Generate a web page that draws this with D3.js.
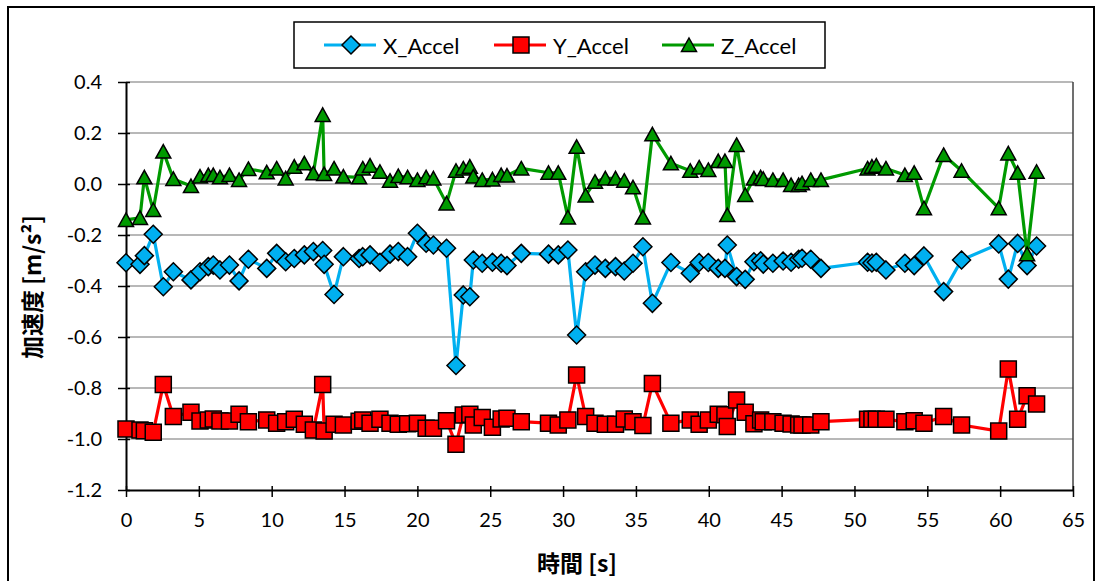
<!DOCTYPE html>
<html>
<head>
<meta charset="utf-8">
<script src="https://cdn.jsdelivr.net/npm/d3@7"></script>
<style>
  body { margin: 0; background: #fff; }
  svg { display: block; }
  text { font-family: Lato, "Open Sans", "DejaVu Sans", sans-serif; fill: #000; }
</style>
</head>
<body>
<svg id="chart" width="1099" height="581"></svg>
<script>
// Sample times [s]
const time = [
  0, 0.96, 1.26, 1.87, 2.56, 3.25, 4.46, 5.08, 5.65, 5.99, 6.45, 7.1, 7.76, 8.4, 9.66,
  10.34, 10.96, 11.55, 12.24, 12.86, 13.5, 13.6, 14.28, 14.92, 16.0, 16.25, 16.75, 17.43,
  18.12, 18.69, 19.33, 20.0, 20.6, 21.1, 22.0, 22.65, 23.15, 23.6, 23.84, 24.45, 25.15,
  25.75, 26.15, 27.13, 29.0, 29.67, 30.33, 30.93, 31.55, 32.19, 32.9, 33.6, 34.2, 34.8,
  35.48, 36.13, 37.4, 38.73, 39.34, 39.97, 40.65, 41.11, 41.27, 41.91, 42.5, 43.1, 43.56,
  43.74, 44.4, 45.1, 45.65, 46.17, 46.4, 47.0, 47.7, 50.9, 51.2, 51.5, 52.16, 53.46,
  54.1, 54.77, 56.12, 57.35, 59.9, 60.56, 61.2, 61.85, 62.5
];

// Acceleration on each axis [m/s²]
const xAccel = [
  -0.309, -0.315, -0.281, -0.197, -0.403, -0.344, -0.376, -0.344, -0.324, -0.318, -0.337, -0.318, -0.380, -0.295, -0.331,
  -0.272, -0.305, -0.292, -0.278, -0.265, -0.261, -0.315, -0.433, -0.285, -0.292, -0.285, -0.278, -0.307,
  -0.275, -0.265, -0.285, -0.193, -0.232, -0.239, -0.252, -0.712, -0.435, -0.442, -0.298, -0.311, -0.307,
  -0.311, -0.320, -0.272, -0.275, -0.278, -0.259, -0.592, -0.344, -0.318, -0.331, -0.324, -0.341, -0.311,
  -0.246, -0.468, -0.308, -0.350, -0.308, -0.308, -0.331, -0.331, -0.239, -0.363, -0.374, -0.305, -0.301,
  -0.314, -0.311, -0.302, -0.307, -0.295, -0.291, -0.295, -0.331, -0.307, -0.310, -0.307, -0.337, -0.311,
  -0.320, -0.282, -0.422, -0.298, -0.235, -0.373, -0.233, -0.320, -0.243
];

const yAccel = [
  -0.961, -0.965, -0.968, -0.974, -0.786, -0.912, -0.895, -0.929, -0.925, -0.922, -0.929, -0.929, -0.903, -0.932, -0.925,
  -0.938, -0.932, -0.923, -0.942, -0.965, -0.786, -0.969, -0.942, -0.945, -0.930, -0.925, -0.938, -0.923,
  -0.938, -0.942, -0.940, -0.938, -0.958, -0.958, -0.928, -1.021, -0.906, -0.903, -0.945, -0.916, -0.954,
  -0.922, -0.919, -0.932, -0.938, -0.945, -0.925, -0.749, -0.912, -0.938, -0.942, -0.942, -0.922, -0.932,
  -0.947, -0.782, -0.938, -0.925, -0.942, -0.925, -0.903, -0.905, -0.951, -0.847, -0.895, -0.940, -0.925,
  -0.932, -0.932, -0.938, -0.941, -0.945, -0.945, -0.945, -0.932, -0.923, -0.923, -0.923, -0.923, -0.932,
  -0.928, -0.938, -0.912, -0.945, -0.969, -0.725, -0.923, -0.830, -0.863
];

const zAccel = [
  -0.141, -0.133, 0.026, -0.102, 0.127, 0.020, -0.008, 0.029, 0.035, 0.035, 0.026, 0.035, 0.016, 0.059, 0.046,
  0.061, 0.022, 0.068, 0.081, 0.042, 0.271, 0.039, 0.061, 0.029, 0.026, 0.061, 0.072, 0.048,
  0.013, 0.031, 0.026, 0.016, 0.026, 0.022, -0.076, 0.052, 0.061, 0.068, 0.029, 0.016, 0.018,
  0.035, 0.033, 0.061, 0.044, 0.044, -0.131, 0.146, -0.045, 0.009, 0.022, 0.022, 0.013, -0.013,
  -0.131, 0.195, 0.081, 0.052, 0.065, 0.055, 0.090, 0.090, -0.122, 0.153, -0.043, 0.022, 0.026,
  0.020, 0.016, 0.016, -0.004, -0.004, 0.003, 0.016, 0.016, 0.061, 0.068, 0.072, 0.061, 0.035,
  0.044, -0.095, 0.114, 0.052, -0.095, 0.120, 0.044, -0.275, 0.048
];

const xTickValues = [0, 5, 10, 15, 20, 25, 30, 35, 40, 45, 50, 55, 60, 65];
const yTickValues = [0.4, 0.2, 0.0, -0.2, -0.4, -0.6, -0.8, -1.0, -1.2];
const seriesNames = ["X_Accel", "Y_Accel", "Z_Accel"];

const svg = d3.select("#chart");
const W = 1099, H = 581;
const plot = { left: 126, right: 1073, top: 82, bottom: 490 };

svg.append("rect").attr("width", W).attr("height", H).attr("fill", "#fff");
// Chart frame
svg.append("rect")
  .attr("x", 8).attr("y", 7).attr("width", 1086).attr("height", 590)
  .attr("fill", "none").attr("stroke", "#000").attr("stroke-width", 2);

const x = d3.scaleLinear().domain([0, 65]).range([plot.left, plot.right]);
const y = d3.scaleLinear().domain([-1.2, 0.4]).range([plot.bottom, plot.top]);

// Horizontal gridlines
svg.append("g")
  .selectAll("line")
  .data(yTickValues.filter(v => v > -1.2))
  .join("line")
  .attr("x1", plot.left).attr("x2", plot.right)
  .attr("y1", d => y(d)).attr("y2", d => y(d))
  .attr("stroke", "#a0a0a0").attr("stroke-width", 1.5);

// Right edge of plot area
svg.append("line")
  .attr("x1", plot.right).attr("x2", plot.right)
  .attr("y1", plot.top).attr("y2", plot.bottom)
  .attr("stroke", "#404040").attr("stroke-width", 1.5);

// Axes
const yAxis = d3.axisLeft(y).tickValues(yTickValues)
  .tickFormat(d => d.toFixed(1)).tickSizeInner(8).tickSizeOuter(0).tickPadding(16);
const gy = svg.append("g").attr("transform", `translate(${plot.left},0)`).call(yAxis);

const xAxis = d3.axisBottom(x).tickValues(xTickValues)
  .tickFormat(d => String(d)).tickSizeInner(7).tickSizeOuter(0).tickPadding(16);
const gx = svg.append("g").attr("transform", `translate(0,${plot.bottom})`).call(xAxis);

[gx, gy].forEach(g => {
  g.select(".domain").attr("stroke", "#000").attr("stroke-width", 2);
  g.selectAll(".tick line").attr("stroke", "#000").attr("stroke-width", 1.5);
  g.selectAll(".tick text").attr("font-size", 20).attr("font-family", "Lato, sans-serif").attr("fill", "#000");
});
// ticks cross the axis slightly into the plot
gy.selectAll(".tick line").attr("x2", 4).attr("x1", -8);
gx.selectAll(".tick line").attr("y1", -4).attr("y2", 7);

// Axis titles
svg.append("text")
  .attr("transform", "translate(31,287) rotate(-90)")
  .attr("text-anchor", "middle").attr("dominant-baseline", "central")
  .attr("font-size", 23).attr("font-weight", "bold")
  .style("font-family", "'Noto Sans CJK JP', Lato, sans-serif")
  .text("加速度 [m/s²]");

svg.append("text")
  .attr("x", 577).attr("y", 562)
  .attr("text-anchor", "middle").attr("dominant-baseline", "central")
  .attr("font-size", 23).attr("font-weight", "bold")
  .style("font-family", "'Noto Sans CJK JP', Lato, sans-serif")
  .text("時間 [s]");

// Marker shapes
const markerPath = {
  diamond: "M0,-9L9,0L0,9L-9,0Z",
  square: "M-8,-8H8V8H-8Z",
  triangle: "M0,-7L7.5,6.5H-7.5Z"
};

const series = [
  { name: seriesNames[0], values: xAccel, color: "#00b0f0", marker: "diamond" },
  { name: seriesNames[1], values: yAccel, color: "#ff0000", marker: "square" },
  { name: seriesNames[2], values: zAccel, color: "#009a00", marker: "triangle" }
];

const line = d3.line().x(d => x(d[0])).y(d => y(d[1]));

series.forEach(s => {
  const pts = time.map((t, i) => [t, s.values[i]]);
  const g = svg.append("g");
  g.append("path").datum(pts)
    .attr("d", line)
    .attr("fill", "none").attr("stroke", s.color).attr("stroke-width", 3.2)
    .attr("stroke-linejoin", "round");
  g.selectAll("path.m").data(pts).join("path")
    .attr("class", "m")
    .attr("transform", d => `translate(${x(d[0])},${y(d[1])})`)
    .attr("d", markerPath[s.marker])
    .attr("fill", s.color).attr("stroke", "#000").attr("stroke-width", 1.5)
    .attr("stroke-linejoin", "miter");
});

// Legend
const legend = svg.append("g");
legend.append("rect")
  .attr("x", 294).attr("y", 22).attr("width", 531).attr("height", 46)
  .attr("fill", "#fff").attr("stroke", "#000").attr("stroke-width", 1.5);
const legendX = [324, 494, 662];
series.forEach((s, i) => {
  const lx = legendX[i], ly = 45;
  legend.append("line")
    .attr("x1", lx).attr("x2", lx + 52).attr("y1", ly).attr("y2", ly)
    .attr("stroke", s.color).attr("stroke-width", 3.2);
  legend.append("path")
    .attr("transform", `translate(${lx + 27},${ly})`)
    .attr("d", markerPath[s.marker])
    .attr("fill", s.color).attr("stroke", "#000").attr("stroke-width", 1.5);
  legend.append("text")
    .attr("x", lx + 59).attr("y", ly)
    .attr("dominant-baseline", "central")
    .attr("font-size", 22)
    .text(s.name);
});
</script>
</body>
</html>
